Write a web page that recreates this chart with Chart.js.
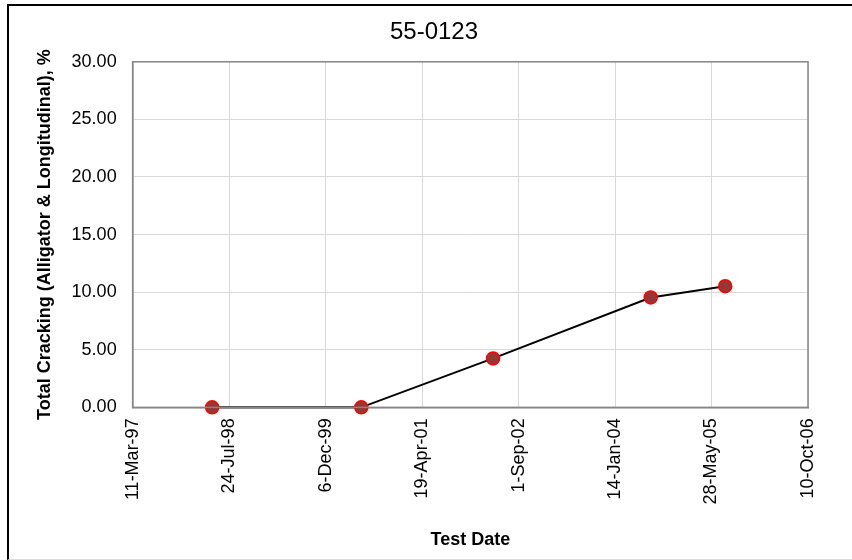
<!DOCTYPE html>
<html>
<head>
<meta charset="utf-8">
<script src="https://cdn.jsdelivr.net/npm/chart.js@4"></script>
<style>
  body { margin: 0; background: #fff; }
  .frame {
    position: absolute;
    left: 7px;
    top: 4px;
    width: 843px;
    height: 553px;
    border-left: 2px solid #000;
    border-top: 2px solid #000;
    border-bottom: 1px solid #dcdcdc;
  }
  .chart__wrapper {
    position: absolute;
    left: 0;
    top: 0;
    width: 852px;
    height: 560px;
  }
</style>
</head>
<body>
<div class="frame"></div>
<div class="chart__wrapper">
  <canvas id="cracking-chart" width="852" height="560"></canvas>
</div>
<script>
  // survey dates and total cracking readings
  const testDates = ["1998-04-27", "2000-06-08", "2002-04-22", "2004-07-17", "2005-08-07"];
  const totalCracking = [0, 0, 4.25, 9.54, 10.52];

  // x axis tick dates (500 days apart)
  const xTickDates = [
    "1997-03-11", "1998-07-24", "1999-12-06", "2001-04-19",
    "2002-09-01", "2004-01-14", "2005-05-28", "2006-10-10",
  ];
  const yTicks = [0, 5, 10, 15, 20, 25, 30];

  const months = ["Jan", "Feb", "Mar", "Apr", "May", "Jun", "Jul", "Aug", "Sep", "Oct", "Nov", "Dec"];
  const baseTime = Date.parse(xTickDates[0]);
  const dayNum = (s) => (Date.parse(s) - baseTime) / 864e5;

  const formatDate = (v) => {
    const d = new Date(baseTime + v * 864e5);
    return d.getUTCDate() + "-" + months[d.getUTCMonth()] + "-" + String(d.getUTCFullYear()).slice(2);
  };

  const plotBorder = {
    id: "plotBorder",
    afterLayout(chart) {
      // centre the title on the whole frame, not only the padded area
      if (chart.titleBlock) {
        chart.titleBlock.left = 16;
        chart.titleBlock.right = 852;
      }
    },
    afterDatasetsDraw(chart) {
      const a = chart.chartArea;
      const ctx = chart.ctx;
      ctx.save();
      ctx.strokeStyle = "#868686";
      ctx.lineWidth = 1.5;
      ctx.strokeRect(a.left, a.top, a.right - a.left, a.bottom - a.top);
      ctx.restore();
    },
  };

  Chart.defaults.font.family = "'Liberation Sans', Arial, sans-serif";
  Chart.defaults.color = "#000";

  const ctx = document.getElementById("cracking-chart").getContext("2d");

  new Chart(ctx, {
    type: "line",
    data: {
      datasets: [
        {
          data: testDates.map((d, i) => ({ x: dayNum(d), y: totalCracking[i] })),
          borderColor: "#000",
          borderWidth: 2,
          pointRadius: 6.5,
          pointBorderWidth: 1.5,
          pointBackgroundColor: "#953735",
          pointBorderColor: "#ff0000",
          tension: 0,
          clip: false,
        },
      ],
    },
    options: {
      responsive: false,
      animation: false,
      layout: {
        padding: { left: 24, right: 44, top: 4, bottom: 9 },
      },
      scales: {
        x: {
          type: "linear",
          min: dayNum(xTickDates[0]),
          max: dayNum(xTickDates[xTickDates.length - 1]),
          afterBuildTicks: (scale) => {
            scale.ticks = xTickDates.map((d) => ({ value: dayNum(d) }));
          },
          grid: { color: "#d9d9d9", drawTicks: false },
          border: { color: "#868686", width: 1.5 },
          ticks: {
            minRotation: 90,
            maxRotation: 90,
            padding: 11,
            font: { size: 18 },
            callback: (v) => formatDate(v),
          },
          title: {
            display: true,
            text: "Test Date",
            font: { size: 18, weight: "bold" },
            padding: { top: 14, bottom: 0 },
          },
        },
        y: {
          min: yTicks[0],
          max: yTicks[yTicks.length - 1],
          afterBuildTicks: (scale) => {
            scale.ticks = yTicks.map((v) => ({ value: v }));
          },
          grid: { color: "#d9d9d9", drawTicks: false },
          border: { color: "#868686", width: 1.5 },
          ticks: {
            padding: 16,
            font: { size: 18 },
            callback: (v) => v.toFixed(2),
          },
          title: {
            display: true,
            text: "Total Cracking (Alligator & Longitudinal), %",
            font: { size: 18, weight: "bold" },
            padding: { top: 10, bottom: 0 },
          },
        },
      },
      plugins: {
        legend: { display: false },
        tooltip: { enabled: false },
        title: {
          display: true,
          text: "55-0123",
          font: { size: 24, weight: "normal" },
          padding: { top: 14, bottom: 15 },
        },
      },
    },
    plugins: [plotBorder],
  });
</script>
</body>
</html>
